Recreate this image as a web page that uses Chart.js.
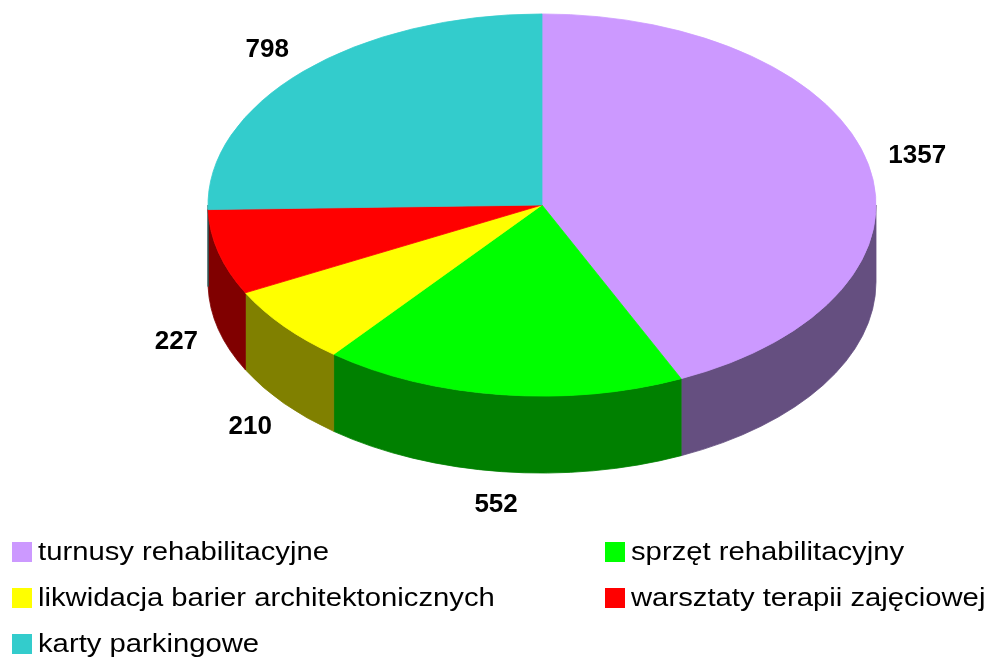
<!DOCTYPE html>
<html>
<head>
<meta charset="utf-8">
<script src="https://cdn.jsdelivr.net/npm/chart.js@4/dist/chart.umd.min.js"></script>
<style>
  html, body { margin:0; padding:0; background:#fff; }
  #wrap { position:relative; width:989px; height:659px; overflow:hidden; }
  #legend { position:absolute; left:0; top:0; width:989px; height:659px; pointer-events:none;
            font-family:'Liberation Sans', Arial, sans-serif; font-size:25px; color:#000; }
  .leg-item { position:absolute; height:24px; line-height:24px; white-space:nowrap; }
  .leg-box { position:absolute; left:0; top:2px; width:20px; height:20px; }
  .leg-txt { position:absolute; left:26px; top:-1px; transform:scaleX(1.17); transform-origin:left center; }
</style>
</head>
<body>
<div id="wrap">
  <canvas id="chartPie" width="989" height="659"></canvas>
  <div id="legend"></div>
</div>
<script>
const ETYKIETY = ['turnusy rehabilitacyjne', 'sprzęt rehabilitacyjny', 'likwidacja barier architektonicznych', 'warsztaty terapii zajęciowej', 'karty parkingowe'];
const WARTOSCI = [1357, 552, 210, 227, 798];
const KOLORY = ['#CC99FF', '#00FF00', '#FFFF00', '#FF0000', '#33CCCC'];
const KOLORY_BOK = ['#654F80', '#008000', '#808000', '#800000', '#1A6666'];

// geometria "3D"
const CY = 205;       // środek elipsy na ekranie
const K = 0.572;      // spłaszczenie
const GLEB = 77;      // grubość placka

const pie3d = {
  id: 'pie3d',
  beforeDatasetsDraw(chart) {
    const ctx = chart.ctx;
    const arcs = chart.getDatasetMeta(0).data;
    if (!arcs.length) return;
    const cx = arcs[0].x, cyChart = arcs[0].y;
    const rx = arcs[0].outerRadius, ry = rx * K;

    // boki (tylko przednia połowa)
    arcs.forEach((a, i) => {
      const a1 = Math.max(a.startAngle, 0), a2 = Math.min(a.endAngle, Math.PI);
      if (a2 <= a1) return;
      ctx.beginPath();
      ctx.ellipse(cx, CY, rx, ry, 0, a1, a2);
      ctx.ellipse(cx, CY + GLEB, rx, ry, 0, a2, a1, true);
      ctx.closePath();
      ctx.fillStyle = KOLORY_BOK[i];
      ctx.fill();
      ctx.strokeStyle = KOLORY_BOK[i];
      ctx.lineWidth = 0.8;
      ctx.stroke();
    });

    ctx.save();
    ctx.translate(0, CY);
    ctx.scale(1, K);
    ctx.translate(0, -cyChart);
  },
  afterDatasetsDraw(chart) {
    const ctx = chart.ctx;
    ctx.restore();
    const arcs = chart.getDatasetMeta(0).data;
    if (!arcs.length) return;
    const cx = arcs[0].x, rx = arcs[0].outerRadius, ry = rx * K;
    ctx.save();
    ctx.font = "bold 26px 'Liberation Sans', Arial, sans-serif";
    ctx.fillStyle = '#000';
    ctx.textAlign = 'center';
    ctx.textBaseline = 'middle';
    arcs.forEach((a, i) => {
      const mid = (a.startAngle + a.endAngle) / 2;
      const s = Math.sin(mid);
      const x = cx + rx * (s > 0 ? 1.13 : 1.15) * Math.cos(mid);
      const y = CY + ry * 1.14 * s + (s > 0 ? GLEB * 1.08 : -3);
      ctx.fillText(String(WARTOSCI[i]), x, y);
    });
    ctx.restore();
  }
};

new Chart(document.getElementById('chartPie'), {
  type: 'pie',
  data: {
    labels: ETYKIETY,
    datasets: [{ data: WARTOSCI, backgroundColor: KOLORY, borderColor: KOLORY, borderWidth: 1, radius: 334, clip: false }]
  },
  options: {
    responsive: false,
    animation: false,
    layout: { padding: { left: 95, right: 0, top: 0, bottom: 0 } },
    plugins: { legend: { display: false }, tooltip: { enabled: false } }
  },
  plugins: [pie3d]
});

// legenda (dwie kolumny)
const legPos = [[12, 540], [605, 540], [12, 586], [605, 586], [12, 632]];
let htmlL = '';
ETYKIETY.forEach((e, i) => {
  htmlL += `<div class="leg-item" style="left:${legPos[i][0]}px;top:${legPos[i][1]}px"><div class="leg-box" style="background:${KOLORY[i]}"></div><span class="leg-txt">${e}</span></div>`;
});
document.getElementById('legend').innerHTML = htmlL;
</script>
</body>
</html>
